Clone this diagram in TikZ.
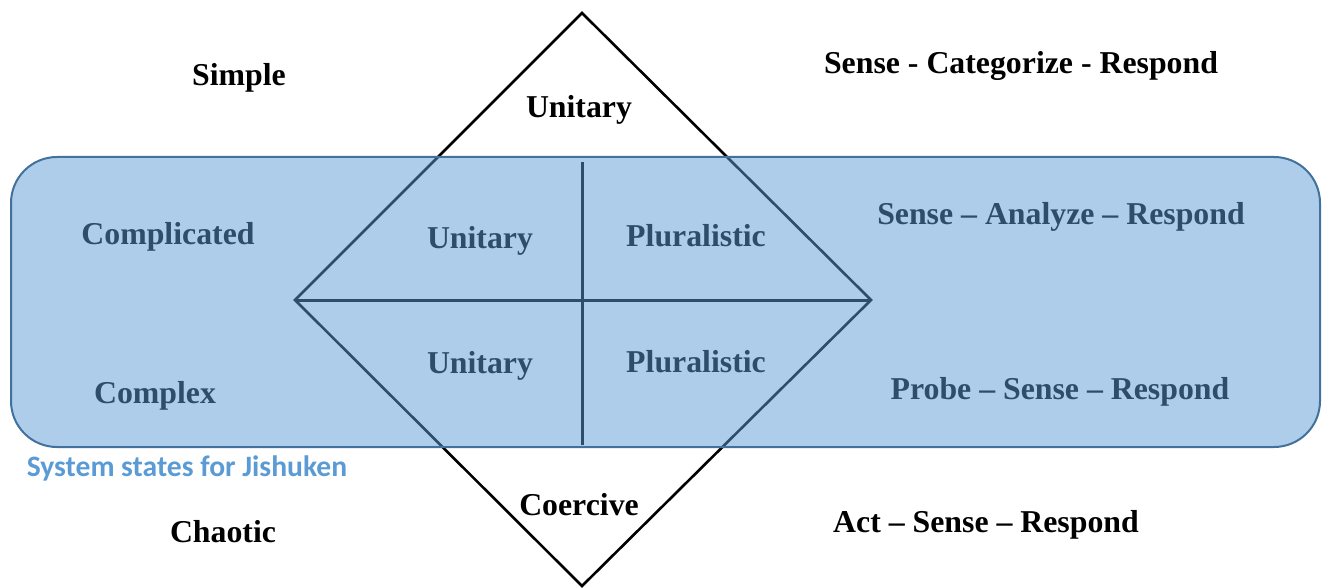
\documentclass[tikz,border=0pt]{standalone}
\usepackage{fontspec}
\setmainfont{Liberation Serif}
\newfontfamily\calib{Carlito}
\definecolor{bandfill}{HTML}{5B9BD5}
\definecolor{bandline}{HTML}{41719C}
\begin{document}
\begin{tikzpicture}[x=1pt,y=-1pt,
  lbl/.style={anchor=base,inner sep=0pt,font=\fontsize{31.8}{36}\selectfont\bfseries},
  edge/.style={line width=2.6pt,black},
  band/.style={fill=bandfill,fill opacity=0.5,draw=bandline,line width=2pt,rounded corners=46pt}]
\useasboundingbox (0,0) rectangle (1325,588);
% diamond
\coordinate (T) at (582,13);
\coordinate (B) at (582,586);
\coordinate (L) at (295,300);
\coordinate (R) at (871,300);
\coordinate (Vt) at (582,162);
\coordinate (Vb) at (582,445);
\draw[edge,line join=miter] (T) -- (R) -- (B) -- (L) -- cycle;
\draw[edge,line width=3pt] (L) -- (R);
\draw[edge,line width=3pt] (Vt) -- (Vb);
% labels
\node[lbl] (simple) at (239,86) {Simple};
\node[lbl] (unitop) at (579,118) {Unitary};
\node[lbl] (scr) at (1021,74) {Sense - Categorize - Respond};
\node[lbl] (compl) at (168,244) {Complicated};
\node[lbl] (uni1) at (480,248) {Unitary};
\node[lbl] (plu1) at (696,247) {Pluralistic};
\node[lbl] (sar) at (1061,225) {Sense – Analyze – Respond};
\node[lbl] (uni2) at (480,373) {Unitary};
\node[lbl] (plu2) at (696,372) {Pluralistic};
\node[lbl] (cplx) at (155,403) {Complex};
\node[lbl] (psr) at (1060,399) {Probe – Sense – Respond};
\node[lbl] (chaotic) at (223,542) {Chaotic};
\node[lbl] (coer) at (579,515) {Coercive};
\node[lbl] (asr) at (986,532) {Act – Sense – Respond};
% band
\draw[band] (11,157) rectangle (1320,447);
\node[anchor=base,inner sep=0pt,text=bandfill,font=\calib\bfseries\fontsize{29.6}{34}\selectfont] (sys) at (187,476) {System states for Jishuken};
\end{tikzpicture}
\end{document}
